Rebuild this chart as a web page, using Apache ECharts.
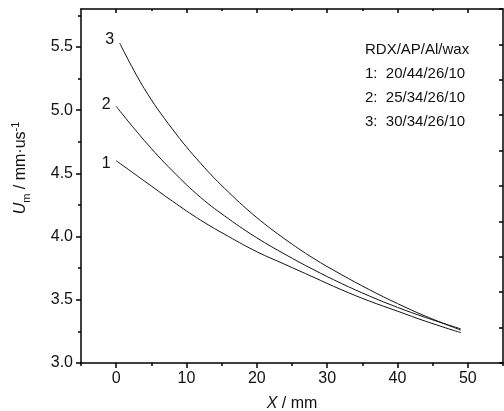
<!DOCTYPE html>
<html>
<head>
<meta charset="utf-8">
<script src="https://cdn.jsdelivr.net/npm/echarts@6/dist/echarts.min.js"></script>
<style>
html, body { margin: 0; padding: 0; background: #fff; }
#main { width: 504px; height: 411px; }
</style>
</head>
<body>
<div id="main"></div>
<script>
// distance X / mm
var xA = [0, 4, 8, 12, 16, 20, 24, 28, 32, 36, 40, 44, 49];
var xB = [0.5, 4, 8, 12, 16, 20, 24, 28, 32, 36, 40, 44, 49];
// Um / mm·us-1
var curve1 = [4.60, 4.44, 4.28, 4.13, 4.00, 3.88, 3.78, 3.68, 3.58, 3.49, 3.41, 3.33, 3.24];
var curve2 = [5.03, 4.76, 4.52, 4.31, 4.14, 3.99, 3.86, 3.74, 3.63, 3.53, 3.44, 3.36, 3.27];
var curve3 = [5.53, 5.17, 4.85, 4.58, 4.35, 4.15, 3.98, 3.83, 3.70, 3.58, 3.47, 3.37, 3.26];
var curveNames = ['1', '2', '3'];
var legendLines = ['RDX/AP/Al/wax', '1:  20/44/26/10', '2:  25/34/26/10', '3:  30/34/26/10'];

var xLabelVals = [0, 10, 20, 30, 40, 50];
var xMinorVals = [-5, 5, 15, 25, 35, 45, 55];
var xTopMinor = [5, 15, 25, 35, 45];
var yLabelVals = [3.0, 3.5, 4.0, 4.5, 5.0, 5.5];
var yMinorVals = [3.25, 3.75, 4.25, 4.75, 5.25, 5.75];

var font = 'Liberation Sans, Arial, sans-serif';
var ink = '#111';
var tickStyle = { color: '#000', width: 1.5 };

function makeSeries(name, xs, ys, labelDy) {
	var data = [];
	for (var i = 0; i < xs.length; i++) {
		if (i === 0) {
			data.push({
				value: [xs[i], ys[i]],
				label: {
					show: true, position: 'left', distance: 5, offset: [0, labelDy],
					formatter: name, color: ink, fontSize: 16, fontFamily: font
				}
			});
		} else {
			data.push([xs[i], ys[i]]);
		}
	}
	return {
		name: name,
		type: 'line',
		smooth: 0.4,
		symbol: 'circle',
		symbolSize: 1,
		showAllSymbol: true,
		itemStyle: { color: 'rgba(0,0,0,0)' },
		lineStyle: { color: ink, width: 1 },
		label: { show: false },
		emphasis: { disabled: true },
		data: data
	};
}

// helper: extra axis that only carries ticks
function tickAxis(extra) {
	var base = {
		type: 'value',
		axisLine: { show: false, onZero: false },
		axisLabel: { show: false },
		splitLine: { show: false },
		axisTick: { show: false }
	};
	return Object.assign(base, extra);
}

var myChart = echarts.init(document.getElementById('main'));

var legendGraphic = legendLines.map(function (t, i) {
	return {
		type: 'text', left: 365, top: 42 + i * 24,
		style: { text: t, font: '15px ' + font, fill: ink }
	};
});

var option = {
	animation: false,
	grid: { left: 81, right: 1, top: 9, bottom: 48, outerBoundsMode: 'none', containLabel: false },
	xAxis: [
		{
			type: 'value', position: 'bottom', min: -5, max: 55,
			axisLine: { show: true, onZero: false, lineStyle: tickStyle },
			axisTick: { show: true, inside: false, length: 5, customValues: xLabelVals, lineStyle: tickStyle },
			axisLabel: { show: true, customValues: xLabelVals, margin: 8, color: ink, fontSize: 16, fontFamily: font },
			splitLine: { show: false },
			name: '{i|X} / mm', nameLocation: 'middle', nameGap: 33,
			nameTextStyle: {
				color: ink, fontSize: 16, fontFamily: font,
				rich: { i: { fontStyle: 'italic', fontSize: 16, fontFamily: font, color: ink } }
			}
		},
		tickAxis({ position: 'bottom', min: -5, max: 55, axisTick: { show: true, length: 3, customValues: xMinorVals, lineStyle: tickStyle } }),
		tickAxis({
			position: 'top', min: -5, max: 55,
			axisLine: { show: true, onZero: false, lineStyle: tickStyle },
			axisTick: { show: true, inside: true, length: 4, customValues: xLabelVals, lineStyle: tickStyle }
		}),
		tickAxis({ position: 'top', min: -5, max: 55, axisTick: { show: true, inside: true, length: 2, customValues: xTopMinor, lineStyle: tickStyle } })
	],
	yAxis: [
		{
			type: 'value', position: 'left', min: 3, max: 5.8,
			axisLine: { show: true, onZero: false, lineStyle: tickStyle },
			axisTick: { show: true, inside: false, length: 5, customValues: yLabelVals, lineStyle: tickStyle },
			axisLabel: {
				show: true, customValues: yLabelVals, margin: 8, color: ink, fontSize: 16, fontFamily: font,
				formatter: function (v) { return v.toFixed(1); }
			},
			splitLine: { show: false }
		},
		tickAxis({ position: 'left', min: 3, max: 5.8, axisTick: { show: true, length: 3, customValues: yMinorVals, lineStyle: tickStyle } }),
		tickAxis({
			position: 'right', min: 0, max: 10, interval: 1,
			axisLine: { show: true, onZero: false, lineStyle: tickStyle },
			axisTick: { show: true, inside: true, length: 4, lineStyle: tickStyle }
		})
	],
	graphic: legendGraphic.concat([{
		type: 'text', x: 21, y: 168, rotation: Math.PI / 2,
		style: {
			text: '{i|U}{sub|m}{n| / mm·us}{sup|-1}',
			align: 'center', verticalAlign: 'middle', fill: ink,
			rich: {
				i: { fontStyle: 'italic', fontSize: 16, fontFamily: font, fill: ink, lineHeight: 22, verticalAlign: 'middle' },
				sub: { fontSize: 11, fontFamily: font, fill: ink, lineHeight: 22, verticalAlign: 'bottom' },
				n: { fontSize: 16, fontFamily: font, fill: ink, lineHeight: 22, verticalAlign: 'middle' },
				sup: { fontSize: 11, fontFamily: font, fill: ink, lineHeight: 22, verticalAlign: 'top' }
			}
		}
	}]),
	series: [
		makeSeries(curveNames[0], xA, curve1, 3),
		makeSeries(curveNames[1], xA, curve2, -2),
		makeSeries(curveNames[2], xB, curve3, -4)
	]
};
myChart.setOption(option, true);
</script>
</body>
</html>
